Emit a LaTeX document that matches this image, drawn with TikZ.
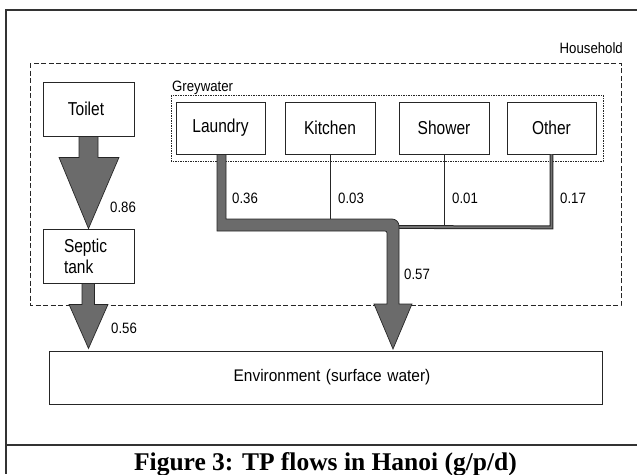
\documentclass[tikz,border=0pt]{standalone}
\usepackage{fontspec}
\setmainfont{Liberation Sans}
\newfontfamily\capfont{Liberation Serif}
\newfontfamily\boxfont{Liberation Sans}[FakeStretch=0.83]
\newfontfamily\envfont{Liberation Sans}[FakeStretch=0.92]
\newfontfamily\lblfont{Liberation Sans}[FakeStretch=0.88]
\usetikzlibrary{calc}
\tikzset{
  box/.style={draw=black!85, line width=0.8pt, minimum width=90pt, minimum height=53pt, inner sep=0pt, font=\boxfont\fontsize{18.7}{21}\selectfont},
  flowfill/.style={fill=black!58, draw=black!85, line width=0.7pt},
  thinflow/.style={draw=black!85, double=black!55, double distance=1.8pt, line width=1pt},
  lbl/.style={font=\lblfont\fontsize{15}{17}\selectfont, inner sep=0pt, anchor=base west},
  frame/.style={draw=black!80, line width=1.2pt},
}
\begin{document}
\begin{tikzpicture}[x=1pt,y=-1pt]
\useasboundingbox (0,0) rectangle (637,474);
% outer frame
\draw[frame] (637,10) -- (6,10) -- (6,474);
\draw[frame] (6,445) -- (637,445);
% household and greywater boundaries
\draw[black!85, line width=0.9pt, dash pattern=on 5pt off 2.5pt] (30,63) rectangle (621,305);
\node[lbl, anchor=base east] (hh) at (623,53) {Household};
\draw[black!85, line width=0.8pt, dash pattern=on 1.5pt off 1pt] (171,95) rectangle (603,161);
\node[lbl] (gw) at (172,91.5) {Greywater};
% boxes
\node[box, minimum width=91pt, minimum height=54pt] (toilet) at (88.5,109) {\hspace*{-5pt}Toilet};
\node[box, minimum width=91pt, minimum height=54pt, text width=49pt, inner xsep=21pt, align=left] (septic) at (88.5,256) {Septic\\tank};
\node[box, minimum width=89pt, minimum height=52pt] (laundry) at (220.5,128) {Laundry};
\node[box, minimum height=52pt] (kitchen) at (330,128) {Kitchen};
\node[box, minimum height=52pt] (shower) at (444,128) {Shower};
\node[box, minimum width=89pt, minimum height=52pt] (other) at (551.5,128) {Other};
\node[box, minimum width=553pt, minimum height=53pt, text width=553pt, align=center, font=\envfont\fontsize{16.8}{20}\selectfont] (env) at (325.5,377.5) {\hspace*{13pt}Environment (surface water)};
% toilet -> septic
\draw[flowfill] ($(toilet.south)+(-9.5,0)$) -- ($(toilet.south)+(9.5,0)$) -- ++(0,21) -- ++(21,0) -- (septic.north) -- ($(toilet.south)+(-29.5,21)$) -- ++(20,0) -- cycle;
% septic -> environment
\draw[flowfill] ($(septic.south)+(-6.5,0)$) -- ($(septic.south)+(6,0)$) -- ++(0,21) -- ++(13.5,0) -- ($(septic.south)+(0,65)$) -- ($(septic.south)+(-19.5,21)$) -- ++(13,0) -- cycle;
% thin flows
\draw[line width=0.8pt, black!85] (kitchen.south) -- ++(0,65);
\draw[line width=0.8pt, black!85] (shower.south) -- ++(0,71);
\draw[thinflow] (other.south) -- ++(0,73) -- (397,227);
% laundry + merged flow
\draw[flowfill] ($(laundry.south)+(-3.5,0)$) -- ($(laundry.south)+(5.5,0)$) -- (226,219) [rounded corners=7pt] -- (399,219) [sharp corners] -- (399,304) -- (412,304) -- (393,349) -- (374,304) -- (387,304) [rounded corners=2pt] -- (387,231) [sharp corners] -- (217,231) -- cycle;
% labels
\node[lbl] (l86) at (110,212) {0.86};
\node[lbl] (l56) at (111,333) {0.56};
\node[lbl] (l36) at (232,203) {0.36};
\node[lbl] (l03) at (338,203) {0.03};
\node[lbl] (l01) at (452,203) {0.01};
\node[lbl] (l17) at (560,203) {0.17};
\node[lbl] (l57) at (404,279) {0.57};
% caption
\node[font=\capfont\bfseries\fontsize{25.5}{28}\selectfont, anchor=base, inner sep=0pt] (cap) at (325.5,470) {Figure 3: TP flows in Hanoi (g/p/d)};
\end{tikzpicture}
\end{document}
